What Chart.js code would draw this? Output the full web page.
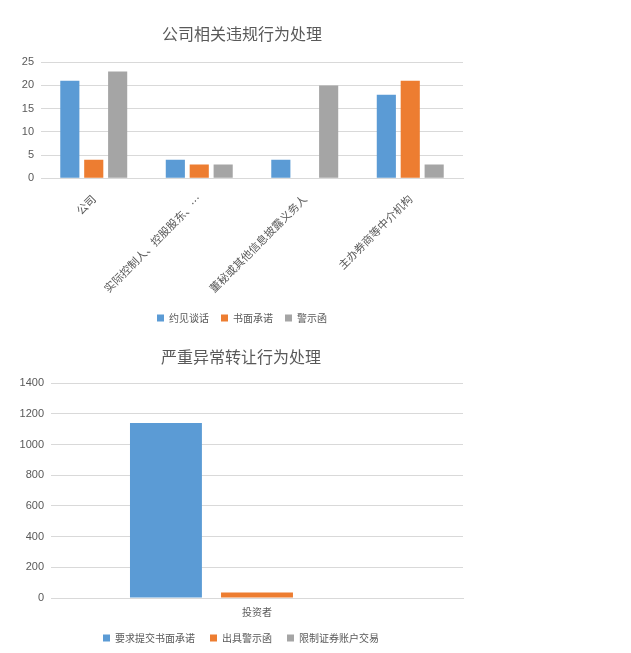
<!DOCTYPE html>
<html>
<head>
<meta charset="utf-8">
<script src="https://cdn.jsdelivr.net/npm/chart.js@4/dist/chart.umd.min.js"></script>
<style>
  body { margin: 0; background: #fff; }
  .box { position: absolute; left: 0; width: 510px; }
  #top { top: 0; height: 335px; }
  #bottom { top: 335px; height: 318px; }
</style>
</head>
<body>
<div class="box" id="top"><canvas id="chart1"></canvas></div>
<div class="box" id="bottom"><canvas id="chart2"></canvas></div>
<script>
// chart 1: 公司相关违规行为处理
const categories1 = ["公司", "实际控制人、控股股东、…", "董秘或其他信息披露义务人", "主办券商等中介机构"];
const talks = [21, 4, 4, 18];      // 约见谈话
const promises = [4, 3, 0, 21];    // 书面承诺
const warnings = [23, 3, 20, 3];   // 警示函
const yTicks1 = [0, 5, 10, 15, 20, 25];

// chart 2: 严重异常转让行为处理
const categories2 = ["投资者"];
const writtenPromise = [1140];  // 要求提交书面承诺
const warningLetter = [36];     // 出具警示函
const restrictTrade = [0];      // 限制证券账户交易
const yTicks2 = [0, 200, 400, 600, 800, 1000, 1200, 1400];

const BLUE = "#5b9bd5";
const ORANGE = "#ed7d31";
const GRAY = "#a5a5a5";
const TEXT = "#595959";
const GRID = "#d9d9d9";
const NUM = "'Liberation Sans', sans-serif";
const CJK = "'Noto Sans CJK SC', sans-serif";

Chart.defaults.font.family = CJK;
Chart.defaults.color = TEXT;
Chart.defaults.animation = false;

function makeChart(id, labels, sets, ticks, opts) {
  return new Chart(document.getElementById(id), {
    type: "bar",
    data: {
      labels: labels,
      datasets: sets.map(s => ({
        label: s.label,
        data: s.data,
        backgroundColor: s.color,
        categoryPercentage: opts.catPct,
        barPercentage: opts.barPct,
      })),
    },
    options: {
      responsive: true,
      maintainAspectRatio: false,
      layout: { padding: opts.padding },
      plugins: {
        title: {
          display: true,
          text: opts.title,
          color: TEXT,
          font: { size: 16, weight: "normal", family: CJK },
          padding: { top: 0, bottom: opts.titleGap },
        },
        legend: {
          position: "bottom",
          labels: {
            boxWidth: 7,
            boxHeight: 7,
            padding: opts.legendPad,
            color: TEXT,
            font: { size: 10, family: CJK },
          },
        },
        tooltip: { enabled: false },
      },
      scales: {
        x: {
          grid: { display: false },
          border: { display: true, color: GRID },
          ticks: {
            color: TEXT,
            font: { size: opts.xFont, family: CJK },
            minRotation: opts.rot,
            maxRotation: opts.rot,
            autoSkip: false,
            padding: opts.xPad,
          },
        },
        y: {
          min: ticks[0],
          max: ticks[ticks.length - 1],
          afterBuildTicks: axis => { axis.ticks = ticks.map(v => ({ value: v })); },
          afterFit: axis => { axis.width = opts.yWidth; },
          grid: { color: GRID, drawTicks: false },
          border: { display: false },
          ticks: { color: TEXT, font: { size: 11, family: NUM }, padding: 7, callback: v => String(v) },
        },
      },
    },
  });
}

makeChart("chart1", categories1, [
  { label: "约见谈话", data: talks, color: BLUE },
  { label: "书面承诺", data: promises, color: ORANGE },
  { label: "警示函", data: warnings, color: GRAY },
], yTicks1, {
  title: "公司相关违规行为处理",
  catPct: 0.68,
  barPct: 0.8,
  rot: 45,
  xFont: 11,
  titleGap: 19,
  xPad: 6,
  legendPad: 12,
  yWidth: 20,
  padding: { left: 21, right: 47, top: 24, bottom: 2 },
});

makeChart("chart2", categories2, [
  { label: "要求提交书面承诺", data: writtenPromise, color: BLUE },
  { label: "出具警示函", data: warningLetter, color: ORANGE },
  { label: "限制证券账户交易", data: restrictTrade, color: GRAY },
], yTicks2, {
  title: "严重异常转让行为处理",
  catPct: 0.663,
  barPct: 0.79,
  rot: 0,
  xFont: 10,
  titleGap: 17,
  xPad: 0,
  legendPad: 15,
  yWidth: 32,
  padding: { left: 19, right: 47, top: 12, bottom: 0 },
});
</script>
</body>
</html>
